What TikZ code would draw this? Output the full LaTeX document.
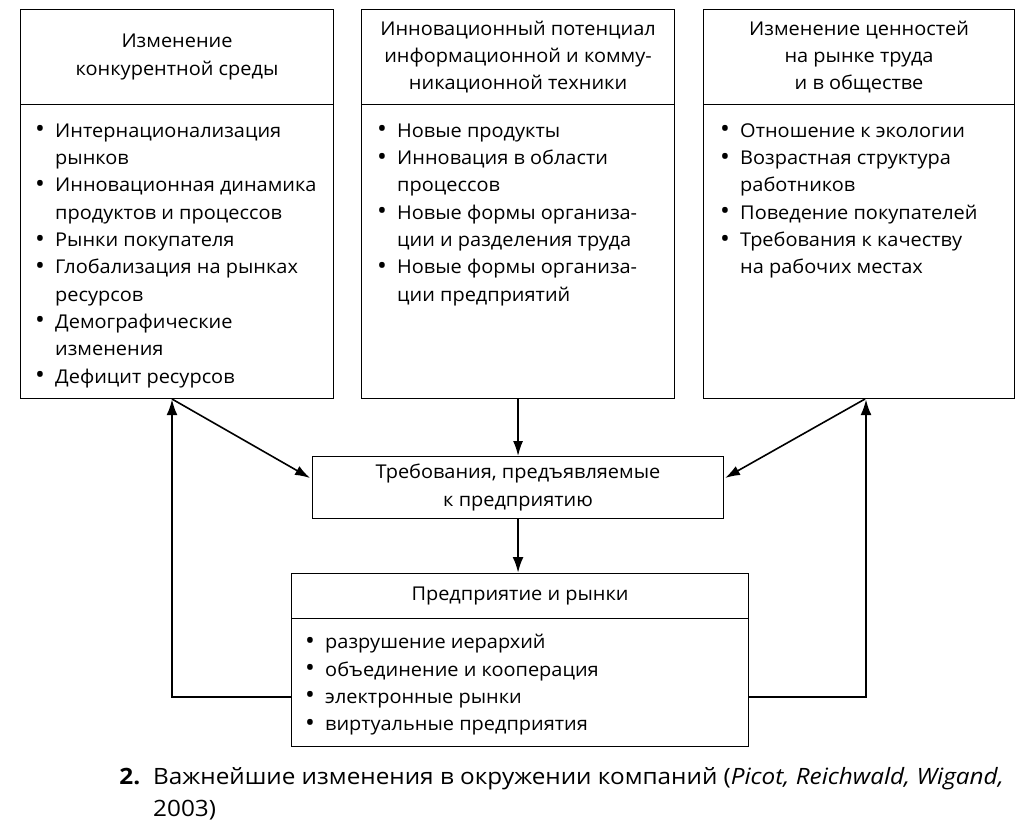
\documentclass[tikz,border=0pt]{standalone}
\usepackage{fontspec}
\setmainfont{Open Sans}[FakeStretch=1.05]
\newfontfamily\capfont{Open Sans}[FakeStretch=1.08]
\usetikzlibrary{arrows.meta}
\newcommand{\bul}{\llap{\makebox[20pt][l]{\raisebox{-0.5pt}{\fontsize{25}{25}\selectfont •}}}}
\begin{document}
\begin{tikzpicture}[x=1pt,y=-1pt,
  boxline/.style={draw=black,line width=1.1pt,inner sep=0pt,anchor=north west},
  txt/.style={font=\fontsize{19}{27.3}\selectfont,inner sep=0pt},
  hdrtxt/.style={txt,align=center},
  listtxt/.style={txt,align=left,anchor=north west},
  arr/.style={line width=1.6pt,-{Latex[length=15pt,width=10pt]}},
  fb/.style={line width=2.4pt,-{Latex[length=16pt,width=11pt]}}]
\useasboundingbox[fill=white] (0,0) rectangle (1024,839);

% top boxes
\node[boxline,minimum width=313pt,minimum height=95pt] (h1) at (20,9) {};
\node[boxline,minimum width=313pt,minimum height=294pt] (b1) at (20,104) {};
\node[boxline,minimum width=313pt,minimum height=95pt] (h2) at (361,9) {};
\node[boxline,minimum width=313pt,minimum height=294pt] (b2) at (361,104) {};
\node[boxline,minimum width=311pt,minimum height=95pt] (h3) at (703,9) {};
\node[boxline,minimum width=311pt,minimum height=294pt] (b3) at (703,104) {};

\node[hdrtxt] (t1) at (h1.center) {Изменение\\конкурентной среды};
\node[hdrtxt] (t2) at (h2.center) {Инновационный потенциал\\информационной и комму-\\никационной техники};
\node[hdrtxt] (t3) at (h3.center) {Изменение ценностей\\на рынке труда\\и в обществе};

\node[listtxt] (l1) at (55,118) {\strut\bul Интернационализация\\рынков\\\bul Инновационная динамика\\продуктов и процессов\\\bul Рынки покупателя\\\bul Глобализация на рынках\\ресурсов\\\bul Демографические\\изменения\\\bul Дефицит ресурсов};
\node[listtxt] (l2) at (397,118) {\strut\bul Новые продукты\\\bul Инновация в области\\процессов\\\bul Новые формы организа-\\ции и разделения труда\\\bul Новые формы организа-\\ции предприятий};
\node[listtxt] (l3) at (740,118) {\strut\bul Отношение к экологии\\\bul Возрастная структура\\работников\\\bul Поведение покупателей\\\bul Требования к качеству\\на рабочих местах};

% middle box
\node[boxline,minimum width=411pt,minimum height=62pt] (mid) at (312,456) {};
\node[hdrtxt] (tm) at (mid.center) {Требования, предъявляемые\\к предприятию};

% bottom box
\node[boxline,minimum width=457pt,minimum height=45pt] (both) at (291,573) {};
\node[boxline,minimum width=457pt,minimum height=128pt] (bot) at (291,618) {};
\node[hdrtxt] (tb) at (both.center) {Предприятие и рынки};
\node[listtxt] (lb) at (325,629.5) {\strut\bul разрушение иерархий\\\bul объединение и кооперация\\\bul электронные рынки\\\bul виртуальные предприятия};

% caption
\node[anchor=north west,inner sep=0pt,align=left,font=\capfont\fontsize{22.5}{32}\selectfont] (cap) at (153,762)
  {\strut\llap{\textbf{2.}\hspace{13pt}}Важнейшие изменения в окружении компаний (\textit{Picot, Reichwald, Wigand,}\\2003)};

% connectors
\coordinate (lc) at (172,697);
\coordinate (rc) at (866,697);
\coordinate (ml) at (310,478);
\coordinate (mr) at (725,478);
\coordinate (dl) at (172,399);
\coordinate (dr) at (865,399);
\draw[fb] (bot.west |- lc) -- (lc) -- (b1.south -| lc);
\draw[fb] (bot.east |- rc) -- (rc) -- (b3.south -| rc);
\draw[arr] (dl) -- (ml);
\draw[arr] (dr) -- (mr);
\draw[arr] (b2.south) -- (mid.north);
\draw[fb] (mid.south) -- (mid.south |- both.north);
\end{tikzpicture}
\end{document}
